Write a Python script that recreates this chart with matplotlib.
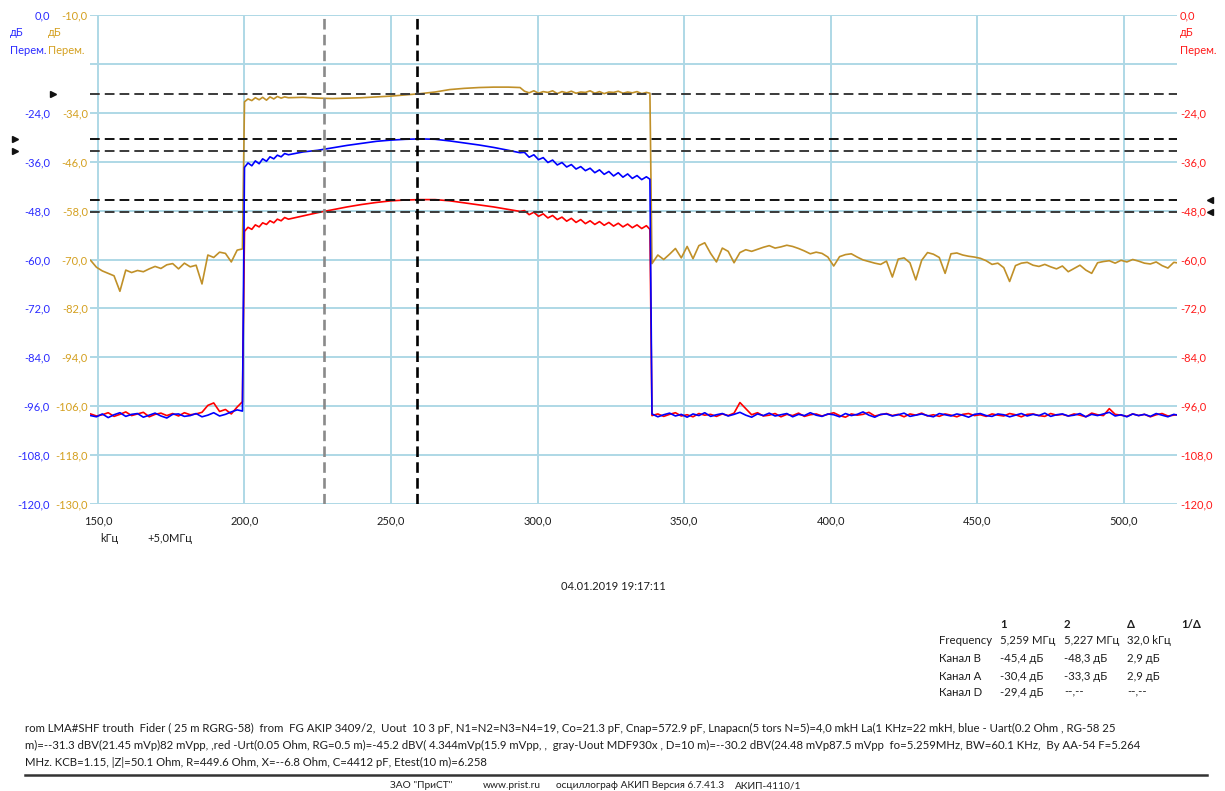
import numpy as np
import matplotlib
matplotlib.use("Agg")
import matplotlib.pyplot as plt
from matplotlib.transforms import blended_transform_factory as blend

plt.rcParams["font.family"] = ["Lato", "Noto Sans", "DejaVu Sans"]

W, H = 1225, 791

# ---------------- data ----------------
# frequency axis: kHz above the 5.0 MHz reference
x_ticks = [150, 200, 250, 300, 350, 400, 450, 500]
left_f = np.append(np.arange(147.5, 198.0, 2.0), 199.3)
pass_f = [200.0, 201.2, 202.5, 203.7, 205.0, 206.2, 207.5, 208.7, 210.0, 211.2, 212.5, 213.7, 215.0,
          220, 225, 230, 235, 240, 245, 250, 255, 260, 265, 270, 275, 280, 285, 290, 294,
          295.5, 297.1, 298.7, 300.3, 301.9, 303.5, 305.1, 306.7, 308.3, 309.9,
          311.5, 313.1, 314.7, 316.3, 317.9, 319.5, 321.1, 322.7, 324.3, 325.9,
          327.5, 329.1, 330.7, 332.3, 333.9, 335.5, 337.1, 338.3]
right_f = np.arange(339.0, 520.0, 2.0)

# channel A (blue), dB
blue_left = [-98.3, -98.6, -97.9, -98.8, -98.1, -97.6, -98.5, -98.0, -97.8, -98.7,
             -98.2, -97.7, -98.4, -98.9, -98.0, -97.9, -98.5, -98.3, -97.8, -98.6,
             -98.2, -97.6, -98.4, -98.0, -97.4, -96.9, -97.2]
blue_pass = [-37.4, -36.3, -37.0, -35.8, -36.5, -35.3, -35.9, -34.8, -35.3, -34.4, -34.8, -34.0, -34.3,
             -33.6, -33.2, -32.6, -32.0, -31.5, -31.0, -30.7, -30.5, -30.4, -30.5, -30.9, -31.4, -31.9,
             -32.5, -33.2, -33.8,
             -33.7, -34.9, -34.3, -35.5, -35.0, -36.2, -35.6, -36.8, -36.2, -37.3,
             -36.7, -37.8, -37.2, -38.2, -37.6, -38.7, -38.0, -39.1, -38.4, -39.5,
             -38.7, -39.8, -39.0, -40.1, -39.4, -40.4, -39.7, -40.3]
blue_right = [-97.9, -98.6, -98.1, -97.7, -98.4, -98.0, -98.7, -97.9, -98.3, -97.6,
              -98.5, -98.1, -97.8, -98.4, -98.0, -97.5, -98.2, -98.7, -97.9, -98.3,
              -97.7, -98.4, -98.1, -97.8, -98.6, -98.0, -98.3, -97.6, -98.2, -98.5,
              -97.9, -98.1, -98.6, -97.8, -98.3, -98.0, -97.4, -98.2, -98.7, -98.0,
              -97.9, -98.4, -98.1, -97.7, -98.5, -98.2, -97.9, -98.3, -98.6, -97.8,
              -98.1, -98.4, -97.9, -98.2, -98.7, -98.0, -97.8, -98.3, -98.5, -97.9,
              -98.1, -98.6, -98.2, -97.8, -98.4, -98.0, -98.3, -97.7, -98.5, -98.1,
              -97.9, -98.4, -98.2, -97.8, -98.6, -98.0, -98.3, -97.9, -97.5, -98.4,
              -98.1, -98.6, -97.9, -98.3, -98.0, -98.5, -97.8, -98.2, -98.6, -98.0,
              -98.3]

# channel B (red), dB
red_left = [-97.9, -98.4, -98.1, -97.6, -98.5, -98.0, -97.4, -98.3, -97.9, -97.5,
            -98.6, -98.0, -97.7, -98.3, -97.8, -98.4, -97.6, -98.1, -97.9, -97.5,
            -95.8, -95.2, -97.3, -96.8, -97.9, -96.2, -94.9]
red_pass = [-53.1, -52.1, -52.6, -51.5, -52.0, -51.0, -51.4, -50.5, -51.0, -50.1, -50.5, -49.7, -50.1,
            -49.3, -48.5, -47.8, -47.1, -46.5, -46.0, -45.6, -45.4, -45.3, -45.3, -45.6, -46.1, -46.6,
            -47.1, -47.7, -48.2,
            -48.0, -49.0, -48.4, -49.4, -48.8, -49.8, -49.2, -50.2, -49.6, -50.6,
            -49.9, -50.9, -50.2, -51.2, -50.5, -51.4, -50.7, -51.6, -50.9, -51.8,
            -51.1, -52.0, -51.3, -52.2, -51.5, -52.4, -51.7, -52.6]
red_right = [-98.3, -97.9, -98.5, -98.0, -97.6, -98.4, -98.1, -98.6, -97.8, -98.2,
             -98.0, -98.5, -97.9, -98.3, -97.7, -95.1, -96.6, -98.1, -97.6, -98.4,
             -98.2, -97.8, -98.6, -98.0, -98.3, -97.7, -98.5, -98.1, -97.9, -98.4,
             -98.0, -97.6, -98.3, -98.7, -97.9, -98.2, -98.0, -97.5, -98.4, -98.1,
             -97.8, -98.3, -98.0, -98.6, -97.9, -98.2, -97.7, -98.4, -98.1, -98.5,
             -97.9, -98.2, -98.6, -98.0, -97.8, -98.3, -98.1, -98.5, -97.9, -98.2,
             -98.4, -97.8, -98.1, -98.6, -98.0, -97.9, -98.3, -98.5, -97.8, -98.2,
             -98.0, -98.4, -97.9, -98.2, -98.6, -97.7, -98.1, -98.3, -96.6, -98.0,
             -98.2, -98.5, -97.9, -98.3, -98.0, -98.6, -98.1, -97.8, -98.4, -98.2,
             -98.0]

# channel D (gold), dB on its own scale
gold_left = [-70.2, -71.9, -72.8, -73.4, -74.0, -77.8, -72.6, -73.2, -72.7, -73.0,
             -72.3, -71.7, -72.2, -71.3, -71.0, -72.3, -70.9, -71.8, -71.4, -76.0,
             -68.9, -69.5, -68.2, -68.5, -70.6, -67.7, -67.4]
gold_pass = [-31.3, -30.6, -31.0, -30.3, -30.8, -30.2, -30.9, -30.1, -30.6, -30.0, -30.4, -30.1, -30.3,
             -30.2, -30.4, -30.5, -30.4, -30.3, -30.1, -29.9, -29.6, -29.3, -28.9, -28.3, -28.0, -27.8,
             -27.7, -27.7, -27.8,
             -28.7, -29.1, -28.6, -29.2, -28.8, -29.0, -28.6, -29.3, -28.8, -29.1,
             -28.7, -29.2, -28.9, -29.0, -28.6, -29.2, -28.8, -29.3, -28.9, -29.0,
             -28.7, -29.2, -28.9, -29.1, -28.8, -29.3, -29.0, -29.2]
gold_right = [-71.0, -68.9, -70.0, -68.7, -67.3, -69.6, -66.8, -69.8, -66.6, -65.9,
              -68.5, -70.6, -67.2, -68.0, -70.8, -68.3, -67.6, -68.0, -67.5, -67.0,
              -66.6, -67.2, -66.9, -66.5, -66.8, -67.3, -67.9, -68.6, -68.2, -68.5,
              -69.4, -71.6, -69.3, -68.8, -68.6, -69.4, -70.1, -70.5, -70.9, -71.2,
              -70.4, -74.3, -69.9, -69.6, -70.8, -75.0, -70.2, -68.3, -68.7, -69.5,
              -73.4, -68.6, -68.4, -68.9, -69.2, -69.4, -69.7, -70.3, -71.2, -70.9,
              -72.0, -75.4, -71.5, -70.9, -70.7, -71.4, -71.7, -71.2, -71.8, -72.3,
              -71.6, -73.0, -72.2, -71.4, -72.6, -73.4, -70.8, -70.5, -70.3, -70.9,
              -70.2, -70.6, -70.0, -70.4, -70.9, -71.1, -70.6, -71.5, -72.1, -70.7,
              -70.9]

# cursor readings
base_mhz = 5.0
marker_mhz = [5.259, 5.227]
chan_b = [-45.4, -48.3]
chan_a = [-30.4, -33.3]
chan_d = [-29.4]

note_lines = [
    "rom LMA#SHF trouth  Fider ( 25 m RGRG-58)  from  FG AKIP 3409/2,  Uout  10 3 pF, N1=N2=N3=N4=19, Co=21.3 pF, "
    "Cnap=572.9 pF, Lnapacn(5 tors N=5)=4,0 mkH La(1 KHz=22 mkH, blue - Uart(0.2 Ohm , RG-58 25",
    "m)=--31.3 dBV(21.45 mVp)82 mVpp, ,red -Urt(0.05 Ohm, RG=0.5 m)=-45.2 dBV( 4.344mVp(15.9 mVpp, ,  "
    "gray-Uout MDF930x , D=10 m)=--30.2 dBV(24.48 mVp87.5 mVpp  fo=5.259MHz, BW=60.1 KHz,  By AA-54 F=5.264",
    "MHz. KCB=1.15, |Z|=50.1 Ohm, R=449.6 Ohm, X=--6.8 Ohm, C=4412 pF, Etest(10 m)=6.258",
]
timestamp = "04.01.2019 19:17:11"

# ---------------- style ----------------
BLUE = "#0000ff"
RED = "#ff0000"
GOLD = "#c09028"
BLUE_TXT = "#2b2bff"
GOLD_TXT = "#d4a020"
RED_TXT = "#ff1a1a"
GRID = "#aed8e6"
TXT = "#1e1e1e"


def fx(x):
    return x / W


def fy(y):
    return 1 - y / H


def fmt(v):
    return f"{v:.1f}".replace(".", ",")


fig = plt.figure(figsize=(W / 100, H / 100), dpi=100)
pos = [fx(90), fy(504), fx(1177) - fx(90), fy(15) - fy(504)]

ax = fig.add_axes(pos)
ax.set_xlim(147.3, 518.1)
ax.set_ylim(-120, 0)
ax.set_xticks(x_ticks)
ax.set_xticklabels([fmt(t) for t in x_ticks])
blue_ticks = np.arange(-120, 1, 12)
ax.set_yticks(blue_ticks)
ax.set_yticklabels(["" if t == -12 else fmt(t) for t in blue_ticks])
ax.grid(True, color=GRID, lw=1.4)
ax.set_axisbelow(True)
ax.tick_params(axis="y", length=0, pad=28.8, labelcolor=BLUE_TXT, labelsize=8)
ax.tick_params(axis="x", length=0, pad=8, labelcolor=TXT, labelsize=8)

ax_g = ax.twinx()
ax_g.set_ylim(-130, -10)
gold_ticks = np.arange(-130, -9, 12)
ax_g.set_yticks(gold_ticks)
ax_g.set_yticklabels(["" if t == -22 else fmt(t) for t in gold_ticks])
ax_g.yaxis.set_ticks_position("left")
ax_g.tick_params(axis="y", length=0, pad=1.5, labelcolor=GOLD_TXT, labelsize=8)

ax_r = ax.twinx()
ax_r.set_ylim(-120, 0)
ax_r.set_yticks(blue_ticks)
ax_r.set_yticklabels(["" if t == -12 else fmt(t) for t in blue_ticks])
ax_r.tick_params(axis="y", length=0, pad=2.2, labelcolor=RED_TXT, labelsize=8)

ax_b = fig.add_axes(pos, sharex=ax, sharey=ax)
ax_b.set_axis_off()

for a in (ax, ax_g, ax_r):
    for s in a.spines.values():
        s.set_visible(False)

# traces
ax_g.plot(np.concatenate([left_f, pass_f, right_f]), gold_left + gold_pass + gold_right,
          color=GOLD, lw=1.2)
ax_r.plot(np.concatenate([left_f, pass_f, right_f]), red_left + red_pass + red_right,
          color=RED, lw=1.2)
ax_b.plot(np.concatenate([left_f, pass_f, right_f]), blue_left + blue_pass + blue_right,
          color=BLUE, lw=1.2)

# cursor lines
hdash = (0, (5, 2.6))
ax_g.axhline(chan_d[0], color="#3a3a3a", lw=1.4, ls=hdash)
ax_b.axhline(chan_a[0], color="#111111", lw=1.4, ls=hdash)
ax_b.axhline(chan_a[1], color="#3a3a3a", lw=1.4, ls=hdash)
ax_r.axhline(chan_b[0], color="#111111", lw=1.4, ls=hdash)
ax_r.axhline(chan_b[1], color="#3a3a3a", lw=1.4, ls=hdash)
marker_khz = [(m - base_mhz) * 1000 for m in marker_mhz]
vdash = (0, (4, 2))
ax_b.axvline(marker_khz[1], color="#8a8a8a", lw=1.9, ls=vdash)
ax_b.axvline(marker_khz[0], color="#000000", lw=1.9, ls=vdash)

# cursor level pointers beside the scales
ax_g.plot([-0.034], chan_d, marker=">", ms=4.5, color="#111", ls="none",
          transform=blend(ax_g.transAxes, ax_g.transData), clip_on=False)
ax_b.plot([-0.069, -0.069], chan_a, marker=">", ms=4.5, color="#111", ls="none",
          transform=blend(ax_b.transAxes, ax_b.transData), clip_on=False)
ax_r.plot([1.030, 1.030], chan_b, marker="<", ms=4.5, color="#111", ls="none",
          transform=blend(ax_r.transAxes, ax_r.transData), clip_on=False)

# scale unit captions
for txt, y in (("дБ", 33), ("Перем.", 50)):
    fig.text(fx(10), fy(y), txt, color=BLUE_TXT, fontsize=8, va="center", ha="left")
    fig.text(fx(48), fy(y), txt, color=GOLD_TXT, fontsize=8, va="center", ha="left")
    fig.text(fx(1180), fy(y), txt, color=RED_TXT, fontsize=8, va="center", ha="left")

fig.text(fx(100), fy(538), "kГц", color=TXT, fontsize=8, va="center", ha="left")
fig.text(fx(147), fy(538), f"+{fmt(base_mhz)}MГц", color=TXT, fontsize=8, va="center", ha="left")

fig.text(fx(613), fy(587), timestamp, color=TXT, fontsize=8, va="center", ha="center")

# cursor table
col_x = [939, 1000, 1064, 1127, 1181]
row_y = [625, 641, 659, 676, 692]
hdr = ["", "1", "2", "Δ", "1/Δ"]
d_f = (marker_mhz[0] - marker_mhz[1]) * 1000
rows = [
    hdr,
    ["Frequency", f"{marker_mhz[0]:.3f} MГц".replace(".", ","),
     f"{marker_mhz[1]:.3f} MГц".replace(".", ","), f"{fmt(d_f)} kГц", ""],
    ["Канал B", f"{fmt(chan_b[0])} дБ", f"{fmt(chan_b[1])} дБ", f"{fmt(chan_b[0] - chan_b[1])} дБ", ""],
    ["Канал A", f"{fmt(chan_a[0])} дБ", f"{fmt(chan_a[1])} дБ", f"{fmt(chan_a[0] - chan_a[1])} дБ", ""],
    ["Канал D", f"{fmt(chan_d[0])} дБ", "--,--", "--,--", ""],
]
for r, (y, row) in enumerate(zip(row_y, rows)):
    for x, cell in zip(col_x, row):
        if cell:
            fig.text(fx(x), fy(y), cell, color=TXT, fontsize=8.2, va="center", ha="left",
                     fontweight="bold" if r == 0 else "normal")

# notes and footer
for i, line in enumerate(note_lines):
    fig.text(fx(25), fy(728 + 17 * i), line, color=TXT, fontsize=8.2, va="center", ha="left")

fig.add_artist(plt.Line2D([fx(25), fx(1207)], [fy(775), fy(775)], color="#333333", lw=1.8,
                          transform=fig.transFigure))
footer = [(390, 'ЗАО "ПриСТ"'), (483, "www.prist.ru"),
          (556, "осциллограф АКИП Версия 6.7.41.3"), (735, "АКИП-4110/1")]
for x, txt in footer:
    fig.text(fx(x), fy(786), txt, color=TXT, fontsize=7.3, va="center", ha="left")

fig.savefig("out.png", dpi=100)
